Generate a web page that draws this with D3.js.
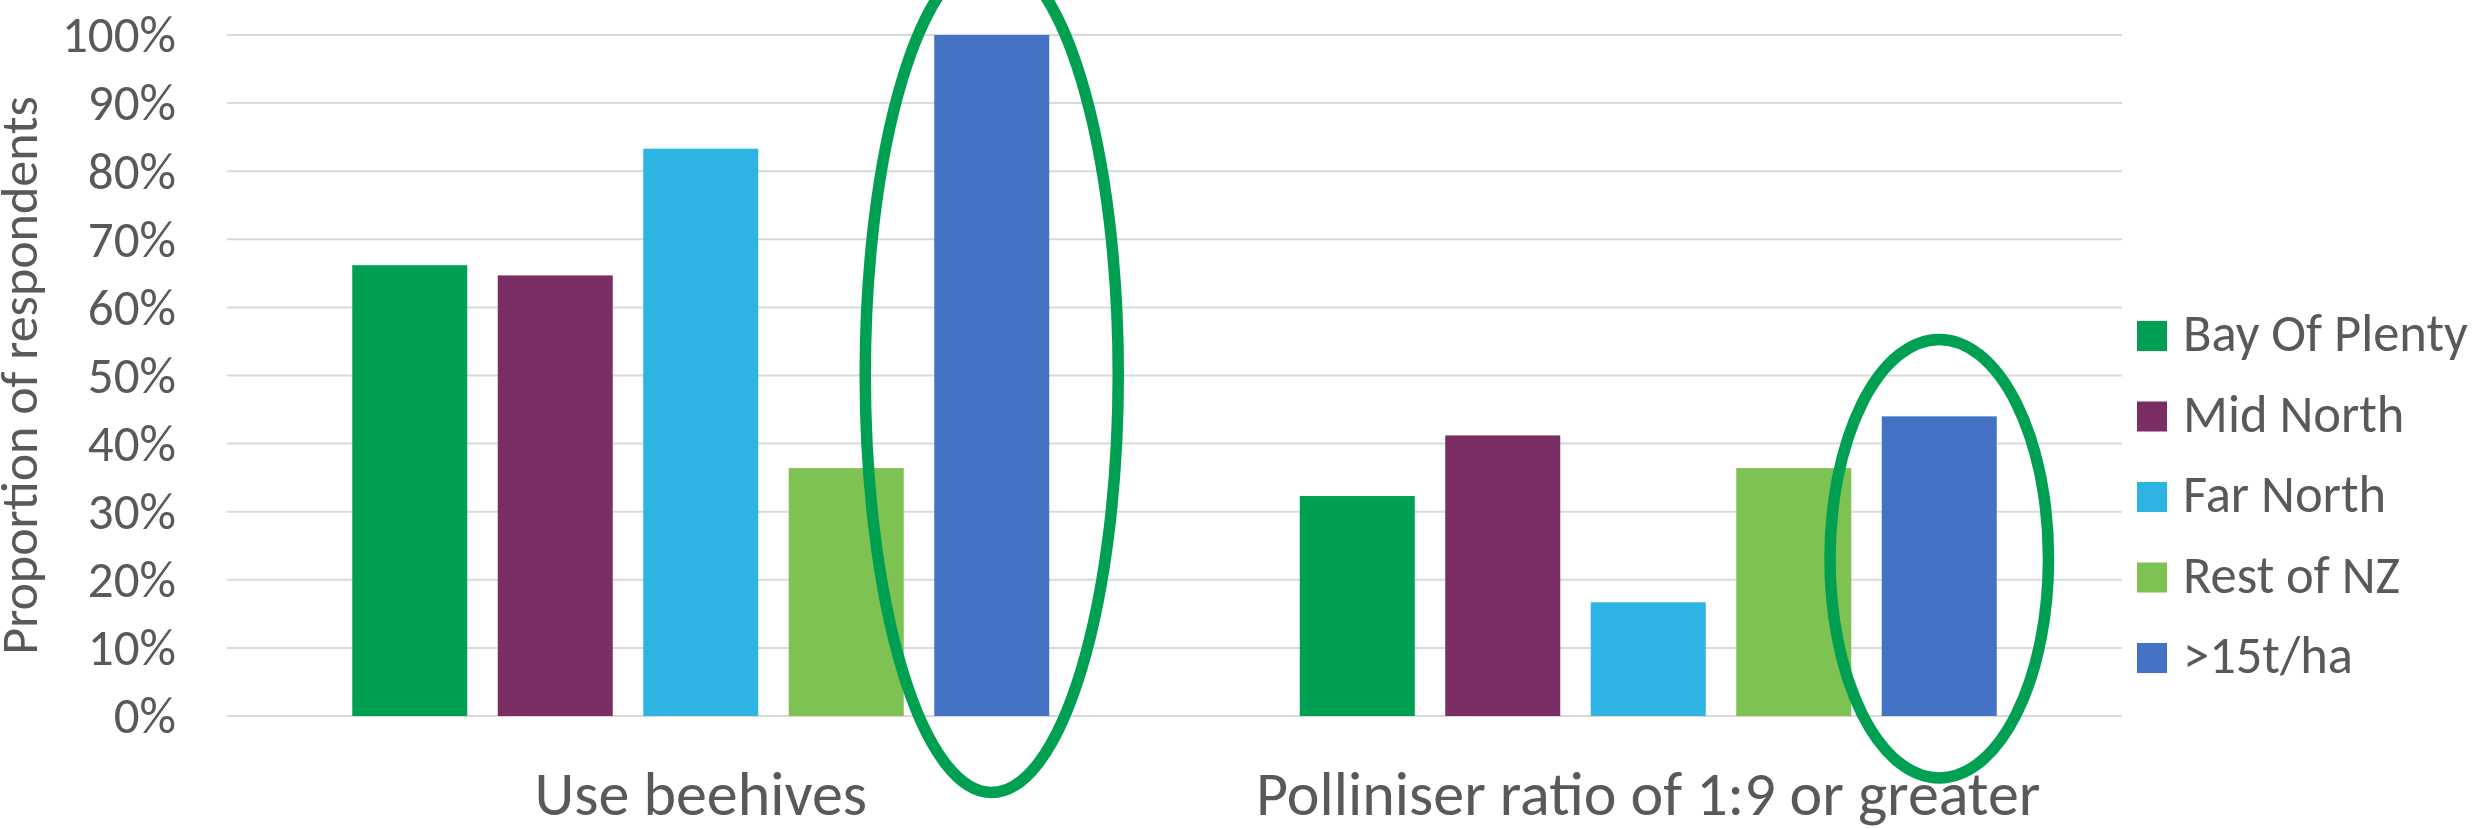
<!DOCTYPE html>
<html>
<head>
<meta charset="utf-8">
<script src="https://cdn.jsdelivr.net/npm/d3@7"></script>
<style>
  html, body { margin: 0; padding: 0; background: #ffffff; }
  svg { display: block; }
  text { font-family: Carlito, Calibri, "Open Sans", sans-serif; fill: #595959; }
</style>
</head>
<body>
<svg id="chart" width="2484" height="829"></svg>
<script>
// ---- data ----
const categories = ["Use beehives", "Polliniser ratio of 1:9 or greater"];
const series = ["Bay Of Plenty", "Mid North", "Far North", "Rest of NZ", ">15t/ha"];
const colors = ["#00A052", "#7A2E64", "#2DB4E3", "#7EC253", "#4472C4"];
const useBeehives = [0.662, 0.647, 0.833, 0.364, 1.000];
const pollinatorRatio = [0.323, 0.412, 0.167, 0.364, 0.440];
const yTicks = [0, 0.1, 0.2, 0.3, 0.4, 0.5, 0.6, 0.7, 0.8, 0.9, 1.0];
const yTitle = "Proportion of respondents";
// highlight ellipses (annotation): category, series, top & bottom in data units, width relative to bar
const highlights = [
  { category: "Use beehives", series: ">15t/ha", top: 1.1145, bottom: -0.1123, widthFactor: 2.2 },
  { category: "Polliniser ratio of 1:9 or greater", series: ">15t/ha", top: 0.553, bottom: -0.091, widthFactor: 1.9 }
];

const values = [useBeehives, pollinatorRatio];
const table = categories.map((c, i) => ({ category: c, values: series.map((s, j) => ({ series: s, value: values[i][j] })) }));

// ---- layout ----
const svg = d3.select("#chart");
const plot = { left: 227, right: 2122, top: 35, bottom: 716 };
const FONT = 'Carlito, Calibri, "Open Sans", sans-serif';

const x0 = d3.scaleBand().domain(categories).range([plot.left, plot.right]).paddingInner(0.2322).paddingOuter(0.1161);
const x1 = d3.scaleBand().domain(series).range([0, x0.bandwidth()]).paddingInner(0.2096).paddingOuter(0.1048);
const y = d3.scaleLinear().domain([0, 1]).range([plot.bottom, plot.top]);
const color = d3.scaleOrdinal().domain(series).range(colors);

// gridlines
svg.append("g").selectAll("line").data(yTicks).join("line")
  .attr("x1", plot.left).attr("x2", plot.right)
  .attr("y1", d => y(d)).attr("y2", d => y(d))
  .attr("stroke", "#d9d9d9").attr("stroke-width", 2);

// y axis labels
const yAxis = d3.axisLeft(y).tickValues(yTicks).tickFormat(d3.format(".0%")).tickSize(0).tickPadding(0);
const yg = svg.append("g").attr("transform", `translate(176,0)`).call(yAxis);
yg.select(".domain").remove();
yg.selectAll("text").attr("font-size", 51).attr("fill", "#595959")
  .style("font-family", FONT).attr("dy", "0.33em");

// y title
svg.append("text")
  .attr("transform", `translate(37,${(plot.top + plot.bottom) / 2}) rotate(-90)`)
  .attr("text-anchor", "middle").attr("font-size", 52).text(yTitle);

// bars
const groups = svg.append("g").selectAll("g").data(table).join("g")
  .attr("transform", d => `translate(${x0(d.category)},0)`);
groups.selectAll("rect").data(d => d.values).join("rect")
  .attr("x", d => x1(d.series)).attr("width", x1.bandwidth())
  .attr("y", d => y(d.value)).attr("height", d => y(0) - y(d.value))
  .attr("fill", d => color(d.series));

// x axis labels
const xAxis = d3.axisBottom(x0).tickSize(0).tickPadding(0);
const xg = svg.append("g").attr("transform", `translate(0,815)`).call(xAxis);
xg.select(".domain").remove();
xg.selectAll("text").attr("font-size", 62).attr("fill", "#595959").attr("dy", 0)
  .style("font-family", FONT);

// highlight ellipses
svg.append("g").selectAll("ellipse").data(highlights).join("ellipse")
  .attr("cx", d => x0(d.category) + x1(d.series) + x1.bandwidth() / 2)
  .attr("cy", d => (y(d.top) + y(d.bottom)) / 2)
  .attr("rx", d => x1.bandwidth() * d.widthFactor / 2)
  .attr("ry", d => (y(d.bottom) - y(d.top)) / 2)
  .attr("fill", "none").attr("stroke", "#00A052").attr("stroke-width", 11.5);

// legend
const legendY = d3.scaleLinear().domain([0, series.length - 1]).range([321, 643]);
const lg = svg.append("g").selectAll("g").data(series).join("g")
  .attr("transform", (d, i) => `translate(2137,${legendY(i)})`);
lg.append("rect").attr("width", 30).attr("height", 30).attr("fill", d => color(d));
lg.append("text").attr("x", 46).attr("y", 30).attr("font-size", 52.5).text(d => d);
</script>
</body>
</html>
